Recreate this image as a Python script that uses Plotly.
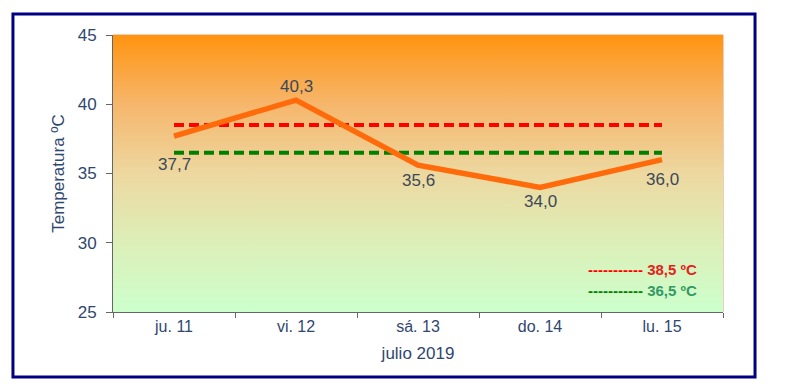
import plotly.graph_objects as go

# ---- data ----
categories = ["ju. 11", "vi. 12", "sá. 13", "do. 14", "lu. 15"]
temps = [37.7, 40.3, 35.6, 34.0, 36.0]
threshold_high = 38.5
threshold_low = 36.5
y_ticks = [25, 30, 35, 40, 45]

# ---- styles ----
label_shift = [-28, 14, -15, -14, -20]
FONT = "Liberation Sans, Arial, sans-serif"
AXIS_TXT = "#2E4770"
LABEL_TXT = "#3C4858"

xs = list(range(len(categories)))
xr = [-0.5, len(categories) - 0.5]
yr = [y_ticks[0], y_ticks[-1]]

fig = go.Figure()

# gradient background of the plot area
fig.add_trace(go.Scatter(
    x=[xr[0], xr[1], xr[1], xr[0], xr[0]],
    y=[yr[0], yr[0], yr[1], yr[1], yr[0]],
    mode="lines", line=dict(width=0), fill="toself",
    fillgradient=dict(type="vertical", colorscale=[
        [0.0, "#CCFFCC"], [0.25, "#DDEFB8"], [0.5, "#EDD8A0"],
        [0.75, "#F6B66C"], [1.0, "#FF9410"]]),
    hoverinfo="skip", showlegend=False))

fig.add_trace(go.Scatter(
    x=xs, y=[threshold_high] * len(xs), mode="lines",
    line=dict(color="#FF0000", width=4, dash="10px,5px"),
    showlegend=False, hoverinfo="skip"))
fig.add_trace(go.Scatter(
    x=xs, y=[threshold_low] * len(xs), mode="lines",
    line=dict(color="#008000", width=4, dash="10px,5px"),
    showlegend=False, hoverinfo="skip"))
fig.add_trace(go.Scatter(
    x=xs, y=temps, mode="lines",
    line=dict(color="#FF6A0A", width=5.5),
    showlegend=False))

for i, v in enumerate(temps):
    fig.add_annotation(x=xs[i], y=v, text=f"{v:.1f}".replace(".", ","),
                       showarrow=False, yshift=label_shift[i],
                       font=dict(family=FONT, size=17, color=LABEL_TXT))

# legend as text
fig.add_annotation(xref="paper", yref="paper", x=0.96, y=0.152,
                   xanchor="right", yanchor="middle", showarrow=False,
                   text="<span style='color:#FF0000'><b>-----------</b></span> <b>"
                        + f"{threshold_high:.1f}".replace(".", ",") + " ºC</b>",
                   font=dict(family=FONT, size=15, color="#E8201A"))
fig.add_annotation(xref="paper", yref="paper", x=0.96, y=0.079,
                   xanchor="right", yanchor="middle", showarrow=False,
                   text="<span style='color:#008000'><b>-----------</b></span> <b>"
                        + f"{threshold_low:.1f}".replace(".", ",") + " ºC</b>",
                   font=dict(family=FONT, size=15, color="#339966"))

# outer navy frame
fig.add_shape(type="rect", xref="paper", yref="paper",
              x0=-0.164, x1=1.0525, y0=-0.2347, y1=1.0758,
              line=dict(color="#000080", width=3), fillcolor="rgba(0,0,0,0)",
              layer="below")

# page body has an 8px margin, so the figure is drawn 8px smaller and offset
fig.update_layout(
    width=792, height=381,
    margin=dict(l=105, r=77, t=27, b=77),
    paper_bgcolor="white", plot_bgcolor="rgba(0,0,0,0)",
    font=dict(family=FONT, color=AXIS_TXT),
    showlegend=False,
    xaxis=dict(range=xr, tickvals=xs, ticktext=categories, ticks="",
               showgrid=False, zeroline=False, showline=True,
               linecolor="#666666", linewidth=1, mirror=False,
               tickfont=dict(size=16, color=AXIS_TXT),
               minor=dict(tickmode="linear", tick0=-0.5, dtick=1, ticks="outside",
                          ticklen=5, tickcolor="#666666", showgrid=False),
               title=dict(text="julio 2019", font=dict(size=17, color=AXIS_TXT),
                          standoff=12),
               fixedrange=True),
    yaxis=dict(range=yr, tickvals=y_ticks, ticks="outside", ticklen=6,
               tickcolor="#666666", showgrid=False, zeroline=False,
               showline=True, linecolor="#666666", linewidth=1,
               ticklabelstandoff=6,
               tickfont=dict(size=17, color=AXIS_TXT),
               title=dict(text="Temperatura ºC", font=dict(size=17, color=AXIS_TXT),
                          standoff=8),
               fixedrange=True),
)

# thin tan border on top/right of plot area
fig.add_shape(type="rect", xref="paper", yref="paper", x0=0, x1=1, y0=0, y1=1,
              line=dict(color="#D9A06A", width=1), fillcolor="rgba(0,0,0,0)",
              layer="below")

fig.write_html("out.html")
